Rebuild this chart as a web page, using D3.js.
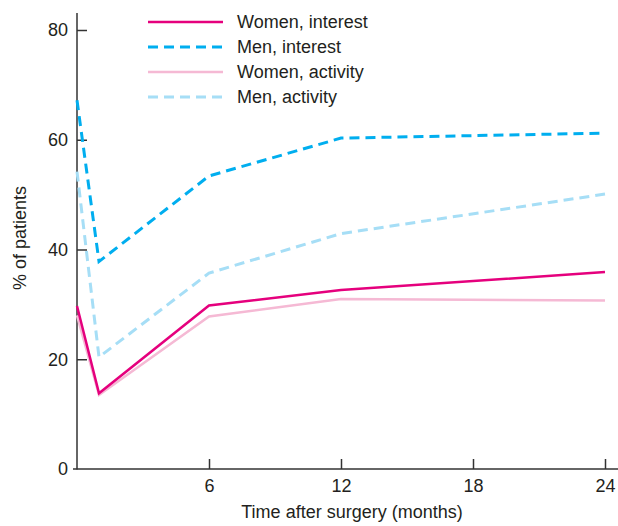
<!DOCTYPE html>
<html><head><meta charset="utf-8">
<script src="https://cdn.jsdelivr.net/npm/d3@7"></script>
<style>
html,body{margin:0;padding:0;background:#fff;}
svg{display:block;font-family:"Liberation Sans",Arial,sans-serif;}
</style></head>
<body>
<svg id="chart" width="618" height="526"></svg>
<script>
// Data
const months = [0, 1, 6, 12, 24];
const womenInterest = [29.7, 13.8, 29.8, 32.6, 35.9];
const menInterest = [67.2, 37.8, 53.4, 60.3, 61.2];
const womenActivity = [28.0, 13.5, 27.8, 31.0, 30.7];
const menActivity = [54.2, 20.4, 35.7, 42.9, 50.1];
const seriesNames = ["Women, interest", "Men, interest", "Women, activity", "Men, activity"];
const xTicks = [6, 12, 18, 24];
const yTicks = [0, 20, 40, 60, 80];
const xTitle = "Time after surgery (months)";
const yTitle = "% of patients";

const styles = [
  {color: "#e5007d", width: 2.5, dash: null},
  {color: "#00aeef", width: 3, dash: "10,6"},
  {color: "#f5b9d4", width: 2.5, dash: null},
  {color: "#a6def6", width: 3, dash: "10,6"}
];
const seriesValues = [womenInterest, menInterest, womenActivity, menActivity];

const svg = d3.select("#chart");
const x = d3.scaleLinear().domain([0, 24]).range([77, 605]);
const y = d3.scaleLinear().domain([0, 80]).range([469, 30]);
const textColor = "#231f20";

// axis lines
svg.append("line").attr("x1", 77).attr("x2", 77).attr("y1", 13).attr("y2", 469.5)
  .attr("stroke", "#333").attr("stroke-width", 1.5);
svg.append("line").attr("x1", 73).attr("x2", 618).attr("y1", 469).attr("y2", 469)
  .attr("stroke", "#333").attr("stroke-width", 1.5);

const yAxis = svg.append("g").attr("transform", "translate(77,0)")
  .call(d3.axisLeft(y).tickValues(yTicks.filter(d => d > 0)).tickSize(-10).tickSizeOuter(0).tickPadding(9));
const xAxis = svg.append("g").attr("transform", "translate(0,469)")
  .call(d3.axisBottom(x).tickValues(xTicks).tickSize(-10).tickSizeOuter(0).tickPadding(10));
[yAxis, xAxis].forEach(g => {
  g.select(".domain").remove();
  g.selectAll(".tick line").attr("stroke", "#333").attr("stroke-width", 1.5);
  g.selectAll("text").attr("font-size", 18).attr("fill", textColor)
    .attr("font-family", "'Liberation Sans',Arial,sans-serif");
});
// zero label
svg.append("text").attr("x", 68).attr("y", y(0)).attr("dy", "0.32em").attr("text-anchor", "end")
  .attr("font-size", 18).attr("fill", textColor).text(yTicks[0]);

// lines
const line = d3.line().x((d, i) => x(months[i])).y(d => y(d));
const order = [3, 2, 1, 0];
order.forEach(k => {
  svg.append("path").datum(seriesValues[k])
    .attr("d", line).attr("fill", "none")
    .attr("stroke", styles[k].color).attr("stroke-width", styles[k].width)
    .attr("stroke-dasharray", styles[k].dash)
    .attr("stroke-linejoin", "miter");
});

// legend
const lg = svg.append("g");
seriesNames.forEach((name, i) => {
  const yy = 22 + i * 25;
  lg.append("line").attr("x1", 148).attr("x2", 223).attr("y1", yy).attr("y2", yy)
    .attr("stroke", styles[i].color).attr("stroke-width", styles[i].width)
    .attr("stroke-dasharray", styles[i].dash);
  lg.append("text").attr("x", 237).attr("y", yy).attr("dy", "0.35em")
    .attr("font-size", 18).attr("fill", textColor).text(name);
});

// titles
svg.append("text").attr("x", 352).attr("y", 518).attr("text-anchor", "middle")
  .attr("font-size", 18).attr("fill", textColor).text(xTitle);
svg.append("text").attr("transform", "translate(26,238) rotate(-90)").attr("text-anchor", "middle")
  .attr("font-size", 18).attr("fill", textColor).text(yTitle);
</script>
</body></html>
